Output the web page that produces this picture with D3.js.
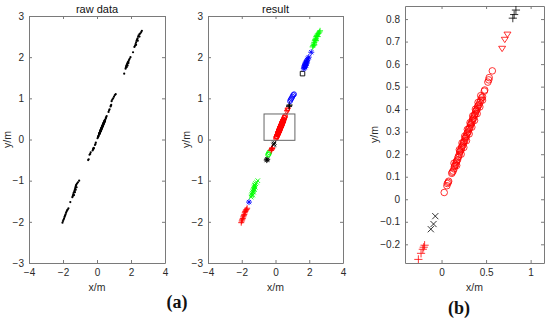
<!DOCTYPE html>
<html>
<head>
<meta charset="utf-8">
<script src="https://cdn.jsdelivr.net/npm/d3@7"></script>
<style>
  body { margin: 0; background: #fff; }
  svg { display: block; }
</style>
</head>
<body>
<div id="chart"></div>
<script>
// cluster points [x, y]
const redPlusLow = [[-2.03,-2.02],[-2.0,-1.98],[-1.97,-1.95],[-1.94,-1.92],[-1.91,-1.88],[-1.88,-1.85],[-1.85,-1.82],[-1.82,-1.78],[-1.79,-1.75],[-1.76,-1.72],[-1.72,-1.7],[-1.68,-1.67]];
const blueStarLow = [[-1.57,-1.52]];
const greenCross = [[-1.45,-1.4],[-1.42,-1.37],[-1.4,-1.34],[-1.38,-1.3],[-1.35,-1.35],[-1.34,-1.27],[-1.32,-1.24],[-1.3,-1.28],[-1.3,-1.21],[-1.28,-1.18],[-1.26,-1.15],[-1.25,-1.22],[-1.24,-1.12],[-1.22,-1.1],[-1.2,-1.16],[-1.18,-1.07],[-1.12,-1.04],[-1.05,-1.0]];
const blackStar = [[-0.52,-0.5],[-0.49,-0.48]];
const greenCircle = [[-0.44,-0.37],[-0.4,-0.35],[-0.37,-0.31]];
const redPlusMid = [[-0.26,-0.267],[-0.23,-0.24],[-0.21,-0.222],[-0.2,-0.213],[-0.19,-0.204]];
const blackCross = [[-0.12,-0.133],[-0.09,-0.11],[-0.07,-0.075]];
const redCircle = [[0.03,0.03],[0.06,0.06],[0.065,0.07],[0.075,0.075],[0.08,0.08],
  [0.115,0.115],[0.12,0.12],[0.13,0.125],[0.14,0.135],[0.145,0.145],[0.15,0.15],[0.16,0.155],
  [0.165,0.165],[0.17,0.17],[0.18,0.175],[0.185,0.185],[0.19,0.19],[0.2,0.2],[0.205,0.21],
  [0.21,0.215],[0.22,0.22],[0.225,0.23],[0.23,0.235],[0.24,0.24],[0.245,0.25],[0.25,0.255],
  [0.26,0.26],[0.265,0.27],[0.27,0.275],[0.28,0.28],[0.285,0.29],[0.29,0.295],[0.3,0.3],
  [0.305,0.31],[0.31,0.315],[0.32,0.32],[0.325,0.33],[0.33,0.335],[0.34,0.34],[0.345,0.35],
  [0.35,0.355],[0.36,0.36],[0.365,0.37],[0.37,0.375],[0.38,0.38],[0.385,0.39],[0.39,0.395],
  [0.4,0.4],[0.405,0.41],[0.41,0.415],[0.42,0.42],[0.43,0.43],[0.44,0.44],[0.45,0.45],
  [0.46,0.455],[0.48,0.48],[0.485,0.485],[0.52,0.52],[0.53,0.53],[0.535,0.54],[0.57,0.57],
  [0.17,0.15],[0.14,0.16],[0.22,0.2],[0.2,0.22],[0.25,0.23],[0.23,0.25],[0.28,0.26],[0.26,0.28],
  [0.31,0.29],[0.29,0.31],[0.34,0.32],[0.32,0.34],[0.37,0.35],[0.35,0.37],[0.4,0.38],[0.38,0.4],
  [0.43,0.41],[0.41,0.43],[0.44,0.46],[0.46,0.44]];
const redTriangle = [[0.68,0.67],[0.71,0.71],[0.74,0.733]];
const blackPlus = [[0.8,0.804],[0.815,0.82],[0.835,0.84]];
const blueCircle = [[0.86,0.93],[0.9,0.97],[0.95,1.0],[1.0,1.04],[1.05,1.08],[1.1,1.1]];
const blackSquare = [[1.6,1.6]];
const blueStarHigh = [[1.68,1.72],[1.7,1.75],[1.72,1.78],[1.74,1.8],[1.75,1.76],[1.76,1.82],[1.78,1.84],[1.8,1.86],[1.8,1.8],[1.82,1.88],[1.85,1.9],[1.85,1.86],[1.88,1.93],[1.92,1.96],[1.97,2.0]];
const blueStarTop = [[2.12,2.12]];
const greenPlus = [[2.2,2.25],[2.24,2.28],[2.27,2.32],[2.3,2.36],[2.3,2.3],[2.33,2.4],[2.36,2.43],[2.39,2.46],[2.4,2.4],[2.42,2.5],[2.45,2.53],[2.5,2.56],[2.5,2.5],[2.55,2.58],[2.6,2.61],[2.64,2.64]];

// zoom window drawn in the result panel
const zoomBox = [[-0.68, 1.15], [-0.02, 0.62]];

// tick labels
const wideXTicks = [-4, -2, 0, 2, 4];
const wideYTicks = [-3, -2, -1, 0, 1, 2, 3];
const zoomXTicks = [0, 0.5, 1];
const zoomYTicks = [-0.2, -0.1, 0, 0.1, 0.2, 0.3, 0.4, 0.5, 0.6, 0.7, 0.8];

const clusters = [
  { pts: redPlusLow, color: "#ff0000", mark: "+" },
  { pts: blueStarLow, color: "#0000ff", mark: "*" },
  { pts: greenCross, color: "#00ff00", mark: "x" },
  { pts: blackStar, color: "#000000", mark: "*" },
  { pts: greenCircle, color: "#00ff00", mark: "o" },
  { pts: redPlusMid, color: "#ff0000", mark: "+" },
  { pts: blackCross, color: "#000000", mark: "x" },
  { pts: redCircle, color: "#ff0000", mark: "o" },
  { pts: redTriangle, color: "#ff0000", mark: "v" },
  { pts: blackPlus, color: "#000000", mark: "+" },
  { pts: blueCircle, color: "#0000ff", mark: "o" },
  { pts: blackSquare, color: "#000000", mark: "s" },
  { pts: blueStarHigh, color: "#0000ff", mark: "*" },
  { pts: blueStarTop, color: "#0000ff", mark: "*" },
  { pts: greenPlus, color: "#00ff00", mark: "+" }
];

const W = 550, H = 322;
const axisColor = "#7a7a7a";
const textColor = "#2a2a2a";
const font = "'Liberation Sans', Arial, sans-serif";

const svg = d3.select("#chart").append("svg")
  .attr("width", W).attr("height", H);

// marker path, centred on 0,0
function markerPath(mark, s) {
  const p = d3.path();
  if (mark === "+") {
    p.moveTo(-s, 0); p.lineTo(s, 0); p.moveTo(0, -s); p.lineTo(0, s);
  } else if (mark === "x") {
    const t = s * 0.75;
    p.moveTo(-t, -t); p.lineTo(t, t); p.moveTo(-t, t); p.lineTo(t, -t);
  } else if (mark === "*") {
    const t = s * 0.7;
    p.moveTo(-s, 0); p.lineTo(s, 0); p.moveTo(0, -s); p.lineTo(0, s);
    p.moveTo(-t, -t); p.lineTo(t, t); p.moveTo(-t, t); p.lineTo(t, -t);
  } else if (mark === "o") {
    p.arc(0, 0, s * 0.8, 0, 2 * Math.PI);
  } else if (mark === "s") {
    const t = s * 0.75;
    p.rect(-t, -t, 2 * t, 2 * t);
  } else if (mark === "v") {
    p.moveTo(-s * 0.85, -s * 0.5); p.lineTo(s * 0.85, -s * 0.5); p.lineTo(0, s * 0.8); p.closePath();
  }
  return p.toString();
}

let clipId = 0;
function drawPanel(o) {
  const x = d3.scaleLinear().domain(o.xDomain).range([o.left, o.right]);
  const y = d3.scaleLinear().domain(o.yDomain).range([o.bottom, o.top]);
  const g = svg.append("g");

  const styleAxis = sel => {
    sel.attr("font-family", font).attr("font-size", 10);
    sel.select(".domain").attr("stroke", axisColor);
    sel.selectAll(".tick line").attr("stroke", axisColor);
    sel.selectAll(".tick text").attr("fill", textColor);
  };

  g.append("g").attr("transform", `translate(0,${o.bottom})`)
    .call(d3.axisBottom(x).tickValues(o.xTicks).tickSize(-3).tickSizeOuter(0).tickPadding(6).tickFormat(d3.format("")))
    .call(styleAxis);
  g.append("g").attr("transform", `translate(0,${o.top})`)
    .call(d3.axisTop(x).tickValues(o.xTicks).tickSize(-3).tickSizeOuter(0).tickFormat(""))
    .call(styleAxis);
  g.append("g").attr("transform", `translate(${o.left},0)`)
    .call(d3.axisLeft(y).tickValues(o.yTicks).tickSize(-3).tickSizeOuter(0).tickPadding(5).tickFormat(d3.format("")))
    .call(styleAxis);
  g.append("g").attr("transform", `translate(${o.right},0)`)
    .call(d3.axisRight(y).tickValues(o.yTicks).tickSize(-3).tickSizeOuter(0).tickFormat(""))
    .call(styleAxis);

  const id = "clip" + (clipId++);
  svg.append("clipPath").attr("id", id).append("rect")
    .attr("x", o.left).attr("y", o.top)
    .attr("width", o.right - o.left).attr("height", o.bottom - o.top);
  const plot = g.append("g").attr("clip-path", `url(#${id})`);

  if (o.raw) {
    const all = clusters.flatMap(c => c.pts);
    plot.selectAll("circle").data(all).enter().append("circle")
      .attr("cx", d => x(d[0])).attr("cy", d => y(d[1]))
      .attr("r", 1.1).attr("fill", "#000");
  } else {
    clusters.forEach(c => {
      plot.append("g").selectAll("path").data(c.pts).enter().append("path")
        .attr("transform", d => `translate(${x(d[0])},${y(d[1])})`)
        .attr("d", markerPath(c.mark, o.markSize))
        .attr("fill", "none")
        .attr("stroke", c.color)
        .attr("stroke-width", o.strokeW);
    });
  }

  if (o.box) {
    g.append("rect")
      .attr("x", x(o.box[0][0])).attr("y", y(o.box[1][1]))
      .attr("width", x(o.box[0][1]) - x(o.box[0][0]))
      .attr("height", y(o.box[1][0]) - y(o.box[1][1]))
      .attr("fill", "none").attr("stroke", "#666").attr("stroke-width", 1);
  }

  if (o.title) {
    g.append("text").attr("x", (o.left + o.right) / 2).attr("y", o.top - 3)
      .attr("text-anchor", "middle").attr("font-family", font).attr("font-size", 11)
      .attr("fill", "#111").text(o.title);
  }
  g.append("text").attr("x", (o.left + o.right) / 2).attr("y", o.bottom + 28)
    .attr("text-anchor", "middle").attr("font-family", font).attr("font-size", 10.5)
    .attr("fill", textColor).text("x/m");
  g.append("text")
    .attr("transform", `translate(${o.yLabelX},${(o.top + o.bottom) / 2}) rotate(-90)`)
    .attr("text-anchor", "middle").attr("font-family", font).attr("font-size", 10.5)
    .attr("fill", textColor).text("y/m");
}

drawPanel({ left: 29, right: 165, top: 16, bottom: 263,
  xDomain: [-4, 4], yDomain: [-3, 3], xTicks: wideXTicks, yTicks: wideYTicks,
  title: "raw data", yLabelX: 11, raw: true });

drawPanel({ left: 208, right: 343, top: 16, bottom: 263,
  xDomain: [-4, 4], yDomain: [-3, 3], xTicks: wideXTicks, yTicks: wideYTicks,
  title: "result", yLabelX: 190, markSize: 3, strokeW: 0.9, box: zoomBox });

drawPanel({ left: 405, right: 544, top: 6, bottom: 263,
  xDomain: [-0.41, 1.15], yDomain: [-0.283, 0.858], xTicks: zoomXTicks, yTicks: zoomYTicks,
  yLabelX: 378, markSize: 4.1, strokeW: 0.8 });

svg.append("text").attr("x", 177).attr("y", 308).attr("text-anchor", "middle")
  .attr("font-family", "'Liberation Serif', 'Times New Roman', serif")
  .attr("font-weight", "bold").attr("font-size", 18).attr("fill", "#111").text("(a)");
svg.append("text").attr("x", 459).attr("y", 314).attr("text-anchor", "middle")
  .attr("font-family", "'Liberation Serif', 'Times New Roman', serif")
  .attr("font-weight", "bold").attr("font-size", 18).attr("fill", "#111").text("(b)");
</script>
</body>
</html>
